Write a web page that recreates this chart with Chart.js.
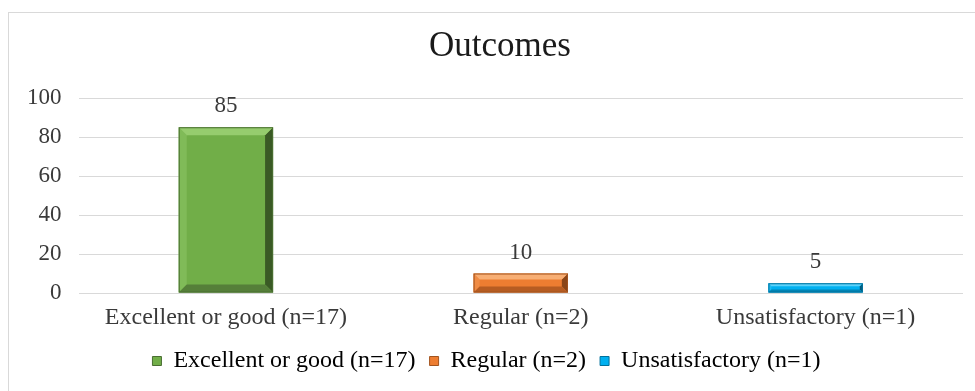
<!DOCTYPE html>
<html>
<head>
<meta charset="utf-8">
<script src="https://cdn.jsdelivr.net/npm/chart.js@4.4.1/dist/chart.umd.min.js"></script>
<style>
  html, body { margin: 0; padding: 0; background: #ffffff; }
  #wrap { width: 975px; height: 391px; position: relative; }
</style>
</head>
<body>
<div id="wrap"><canvas id="chart" width="975" height="391"></canvas></div>
<script>
// Outcome categories and their percentages
const categories = ['Excellent or good (n=17)', 'Regular (n=2)', 'Unsatisfactory (n=1)'];
const outcomeValues = [85, 10, 5];
const chartTitle = 'Outcomes';
const yTickStep = 20;
const yMax = 100;

// Face colour and bevel shades for each category
const faceColors = ['#71ae48', '#ed7d31', '#00b0f0'];
const bevelShades = [
  { top: '#96cc6e', left: '#80bb58', right: '#3a5a25', bottom: '#557f39', edge: '#4a6e32' },
  { top: '#f8ae73', left: '#f08c45', right: '#8a4518', bottom: '#b65c22', edge: '#a2541f' },
  { top: '#5cd2fa', left: '#1cbcf4', right: '#005a7c', bottom: '#0084b5', edge: '#00719c' }
];

const serif = '"Liberation Serif", "Times New Roman", serif';
const labelColor = '#3a3a3a';

function poly(ctx, pts, fill) {
  ctx.beginPath();
  ctx.moveTo(pts[0][0], pts[0][1]);
  for (let i = 1; i < pts.length; i++) ctx.lineTo(pts[i][0], pts[i][1]);
  ctx.closePath();
  ctx.fillStyle = fill;
  ctx.fill();
}

// Light grey frame around the chart, and the heading centred on the frame
const framePlugin = {
  id: 'frame',
  beforeDraw(chart) {
    const ctx = chart.ctx;
    ctx.save();
    ctx.fillStyle = '#ffffff';
    ctx.fillRect(0, 0, chart.width, chart.height);
    ctx.strokeStyle = '#d9d9d9';
    ctx.lineWidth = 1;
    ctx.strokeRect(8.5, 12.5, chart.width + 20, chart.height + 20);
    ctx.fillStyle = '#1a1a1a';
    ctx.font = '35px ' + serif;
    ctx.textAlign = 'center';
    ctx.textBaseline = 'middle';
    ctx.fillText(chartTitle, 500, 47);
    ctx.restore();
  }
};

// Bevelled bar faces and value labels above each bar
const bevelPlugin = {
  id: 'bevel',
  afterDatasetsDraw(chart) {
    const ctx = chart.ctx;
    const meta = chart.getDatasetMeta(0);
    ctx.save();
    meta.data.forEach((bar, i) => {
      const p = bar.getProps(['x', 'y', 'base', 'width'], true);
      const x0 = p.x - p.width / 2, x1 = p.x + p.width / 2;
      const t = Math.min(p.y, p.base), b = Math.max(p.y, p.base);
      const h = b - t;
      const bv = Math.min(8, h * 0.32);
      const s = bevelShades[i];
      poly(ctx, [[x0, t], [x0 + bv, t + bv], [x0 + bv, b - bv], [x0, b]], s.left);
      poly(ctx, [[x1, t], [x1, b], [x1 - bv, b - bv], [x1 - bv, t + bv]], s.right);
      poly(ctx, [[x0, b], [x0 + bv, b - bv], [x1 - bv, b - bv], [x1, b]], s.bottom);
      poly(ctx, [[x0, t], [x1, t], [x1 - bv, t + bv], [x0 + bv, t + bv]], s.top);
      ctx.strokeStyle = s.edge;
      ctx.lineWidth = 1;
      ctx.strokeRect(x0 + 0.5, t + 0.5, p.width - 1, h - 1);

      ctx.fillStyle = labelColor;
      ctx.font = '23px ' + serif;
      ctx.textAlign = 'center';
      ctx.textBaseline = 'alphabetic';
      ctx.fillText(String(outcomeValues[i]), p.x, t - 15);
    });
    ctx.restore();
  }
};

new Chart(document.getElementById('chart'), {
  type: 'bar',
  data: {
    labels: categories,
    datasets: [{
      label: chartTitle,
      data: outcomeValues,
      backgroundColor: faceColors,
      borderWidth: 0,
      categoryPercentage: 1,
      barPercentage: 0.32
    }]
  },
  options: {
    responsive: false,
    animation: false,
    devicePixelRatio: 1,
    layout: { padding: { top: 98, left: 10, right: 12, bottom: 8 } },
    plugins: {
      title: { display: false },
      legend: {
        position: 'bottom',
        labels: {
          color: labelColor,
          font: { family: serif, size: 24 },
          boxWidth: 9,
          boxHeight: 9,
          padding: 14,
          generateLabels(chart) {
            return categories.map((c, i) => ({
              text: c,
              fillStyle: faceColors[i],
              strokeStyle: bevelShades[i].edge,
              lineWidth: 1,
              hidden: false,
              index: i
            }));
          }
        }
      },
      tooltip: { enabled: false }
    },
    scales: {
      x: {
        grid: { display: false, drawTicks: false },
        border: { display: false },
        ticks: { color: labelColor, font: { family: serif, size: 24, lineHeight: 1.083 }, padding: 12 },
        // padding is counted above and below the labels; drop the lower share
        afterFit(scale) { scale.height -= 8; }
      },
      y: {
        min: 0,
        max: yMax,
        ticks: { stepSize: yTickStep, color: labelColor, font: { family: serif, size: 23 }, padding: 17 },
        grid: { color: '#d9d9d9', drawTicks: false },
        border: { display: false }
      }
    }
  },
  plugins: [framePlugin, bevelPlugin]
});
</script>
</body>
</html>
